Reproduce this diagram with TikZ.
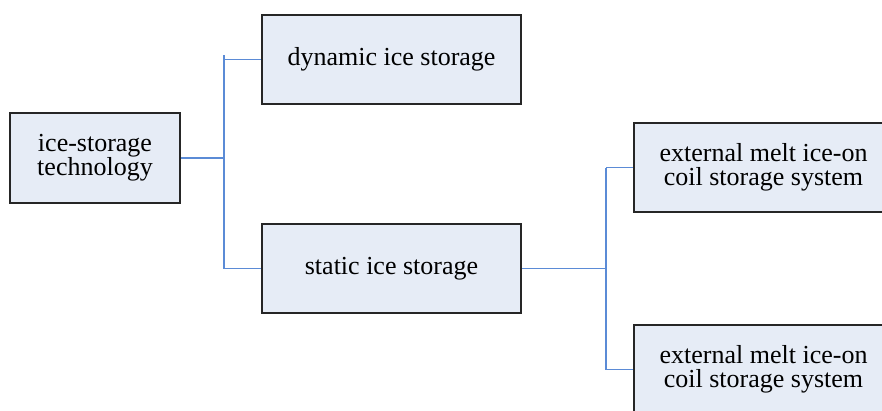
\documentclass[tikz,border=0pt]{standalone}
\usepackage{fontspec}
\setmainfont{Liberation Serif}
\definecolor{boxfill}{HTML}{E6ECF6}
\definecolor{boxline}{HTML}{262626}
\definecolor{connblue}{HTML}{5B8BD6}
\begin{document}
\begin{tikzpicture}[x=1pt,y=-1pt,
  box/.style={draw=boxline, fill=boxfill, line width=2pt, inner sep=0pt,
    align=center, minimum width=259pt, minimum height=89pt,
    font=\fontsize{26}{24}\selectfont},
  conn/.style={draw=connblue, line width=1.8pt}]
  \clip (0,0) rectangle (882,410);
  \fill[white] (0,0) rectangle (882,410);

  % boxes
  \node[box, minimum width=170pt, minimum height=90pt] (tech) at (95,158) {ice-storage\\technology};
  \node[box] (dyn) at (391.5,59.5) {dynamic ice storage};
  \node[box] (stat) at (391.5,268.5) {static ice storage};
  \node[box] (ext1) at (763.5,167.5) {external melt ice-on\\coil storage system};
  \node[box] (ext2) at (763.5,369.5) {external melt ice-on\\coil storage system};

  % branch points
  \coordinate (j1) at (224,158);
  \coordinate (j1top) at (224,55);
  \coordinate (j2) at (606,268);

  % connectors from the root
  \draw[conn] (tech.east) -- (tech.east -| j1);
  \draw[conn] (j1top) -- (j1 |- stat.west);
  \draw[conn] (j1 |- dyn.west) -- (dyn.west);
  \draw[conn] (j1 |- stat.west) -- (stat.west);

  % connectors from static ice storage
  \draw[conn] (stat.east) -- (stat.east -| j2);
  \draw[conn] (j2 |- ext1.west) -- (j2 |- ext2.west);
  \draw[conn] (j2 |- ext1.west) -- (ext1.west);
  \draw[conn] (j2 |- ext2.west) -- (ext2.west);
\end{tikzpicture}
\end{document}
